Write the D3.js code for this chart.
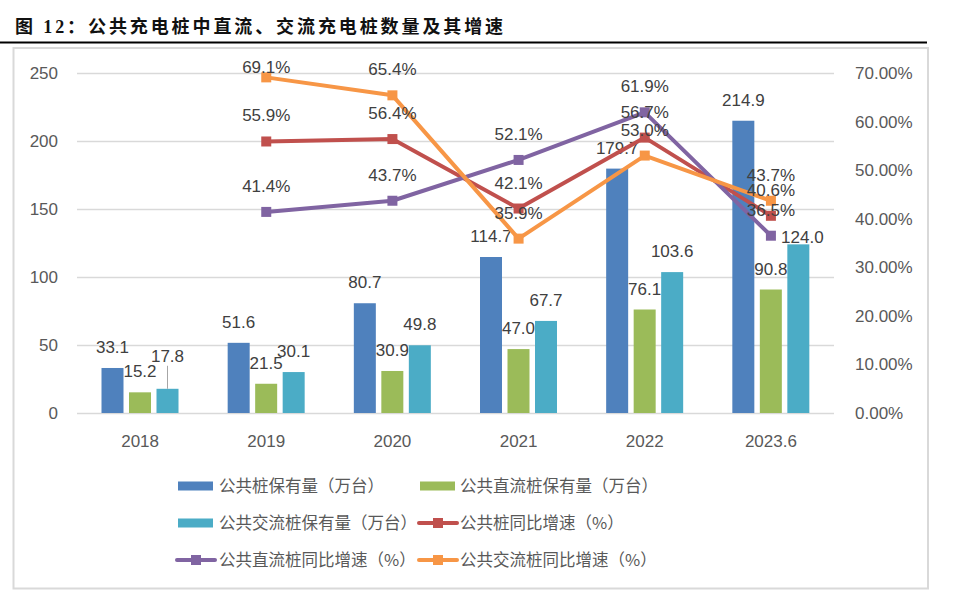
<!DOCTYPE html>
<html><head><meta charset="utf-8">
<script src="https://cdn.jsdelivr.net/npm/d3@7"></script>
<style>
body{margin:0;background:#fff;}
svg{display:block;}
</style></head>
<body>
<svg id="chart" width="960" height="595"></svg>
<script>
// ---------- data ----------
const categories = ["2018","2019","2020","2021","2022","2023.6"];
const totalPiles = [33.1, 51.6, 80.7, 114.7, 179.7, 214.9];
const dcPiles    = [15.2, 21.5, 30.9, 47.0, 76.1, 90.8];
const acPiles    = [17.8, 30.1, 49.8, 67.7, 103.6, 124.0];
const totalGrowth = [null, 55.9, 56.4, 42.1, 56.7, 40.6];
const dcGrowth    = [null, 41.4, 43.7, 52.1, 61.9, 36.5];
const acGrowth    = [null, 69.1, 65.4, 35.9, 53.0, 43.7];
const leftTicks  = [0, 50, 100, 150, 200, 250];
const rightTicks = [0, 10, 20, 30, 40, 50, 60, 70];
const barNames  = ["公共桩保有量（万台）","公共直流桩保有量（万台）","公共交流桩保有量（万台）"];
const lineNames = ["公共桩同比增速（%）","公共直流桩同比增速（%）","公共交流桩同比增速（%）"];
const titleText = "图 12：公共充电桩中直流、交流充电桩数量及其增速";

// ---------- styles ----------
const barColors  = ["#4F81BD","#9BBB59","#4BACC6"];
const lineColors = ["#C0504D","#8064A2","#F79646"];
const axisColor = "#595959";
const labelColor = "#404040";
const numFont = "'Liberation Sans', Arial, sans-serif";
const cjkFont = "'Noto Sans CJK SC', sans-serif";

const svg = d3.select("#chart");

// title
svg.append("text").attr("x", 15).attr("y", 33)
  .attr("font-family", "'Liberation Serif', " + cjkFont).attr("font-weight", "bold")
  .attr("font-size", 18).attr("letter-spacing", 2.9).attr("fill", "#111")
  .text(titleText);
svg.append("line").attr("x1", 0).attr("x2", 927).attr("y1", 42.5).attr("y2", 42.5)
  .attr("stroke", "#000").attr("stroke-width", 2);
// frame
svg.append("rect").attr("x", 13.5).attr("y", 48).attr("width", 914.5).attr("height", 540.5)
  .attr("fill", "none").attr("stroke", "#d9d9d9").attr("stroke-width", 2);

// scales
const plotL = 77, plotR = 834, plotT = 73, plotB = 413;
const x = d3.scaleBand().domain(categories).range([plotL, plotR]);
const xs = d3.scaleBand().domain([0,1,2]).range([24.5, 101.5]).paddingInner(0.2);
const yL = d3.scaleLinear().domain([0, 250]).range([plotB, plotT]);
const yR = d3.scaleLinear().domain([0, 70]).range([plotB, plotT]);

// left axis + gridlines
const gL = svg.append("g").attr("transform", `translate(${plotL},0)`)
  .call(d3.axisLeft(yL).tickValues(leftTicks).tickSize(-(plotR - plotL)).tickPadding(19));
gL.select(".domain").remove();
gL.selectAll("line").attr("stroke", "#d9d9d9").attr("stroke-width", 1.5);
gL.selectAll("text").attr("font-family", numFont).attr("font-size", 17).attr("fill", axisColor);

// right axis
const gR = svg.append("g").attr("transform", `translate(${plotR},0)`)
  .call(d3.axisRight(yR).tickValues(rightTicks).tickSize(0).tickPadding(21)
    .tickFormat(d => d3.format(".2f")(d) + "%"));
gR.select(".domain").remove();
gR.selectAll("text").attr("font-family", numFont).attr("font-size", 17).attr("fill", axisColor);

// x axis
const gX = svg.append("g").attr("transform", `translate(0,${plotB})`)
  .call(d3.axisBottom(x).tickSize(0).tickPadding(22));
gX.select(".domain").remove();
gX.selectAll("text").attr("font-family", numFont).attr("font-size", 17).attr("fill", axisColor);

// bars
const barSeries = [totalPiles, dcPiles, acPiles];
const labelTweaks = { "2-0": {dx: 0, dy: -12, leader: true}, "2-5": {dx: 4, dy: 14} };
barSeries.forEach((vals, si) => {
  const g = svg.append("g");
  g.selectAll("rect").data(vals).join("rect")
    .attr("x", (d, i) => x(categories[i]) + xs(si))
    .attr("y", d => yL(d))
    .attr("width", xs.bandwidth())
    .attr("height", d => plotB - yL(d))
    .attr("fill", barColors[si]);
  vals.forEach((d, i) => {
    const t = labelTweaks[si + "-" + i] || {dx: 0, dy: 0};
    const cx = x(categories[i]) + xs(si) + xs.bandwidth() / 2 + t.dx;
    const by = yL(d) - 15 + t.dy;
    if (t.leader) {
      svg.append("line").attr("x1", cx).attr("x2", cx)
        .attr("y1", by + 4).attr("y2", yL(d))
        .attr("stroke", "#a6a6a6").attr("stroke-width", 1);
    }
    svg.append("text").attr("x", cx).attr("y", by)
      .attr("text-anchor", "middle").attr("font-family", numFont).attr("font-size", 17)
      .attr("fill", labelColor).text(d3.format(".1f")(d));
  });
});

// lines
const lineSeries = [totalGrowth, dcGrowth, acGrowth];
const cx = i => x(categories[i]) + x.bandwidth() / 2;
lineSeries.forEach((vals, si) => {
  const pts = vals.map((v, i) => ({v, i})).filter(p => p.v !== null);
  const line = d3.line().x(p => cx(p.i)).y(p => yR(p.v));
  svg.append("path").datum(pts).attr("d", line)
    .attr("fill", "none").attr("stroke", lineColors[si]).attr("stroke-width", 4)
    .attr("stroke-linejoin", "round");
  svg.append("g").selectAll("rect").data(pts).join("rect")
    .attr("x", p => cx(p.i) - 5).attr("y", p => yR(p.v) - 5)
    .attr("width", 10).attr("height", 10).attr("fill", lineColors[si]);
});
lineSeries.forEach((vals, si) => {
  vals.forEach((v, i) => {
    if (v === null) return;
    svg.append("text").attr("x", cx(i)).attr("y", Math.max(yR(v) - 20, 73))
      .attr("text-anchor", "middle").attr("font-family", numFont).attr("font-size", 17)
      .attr("fill", labelColor).text(d3.format(".1f")(v) + "%");
  });
});

// legend
const legendItems = [
  {type: "bar", color: barColors[0], name: barNames[0]},
  {type: "bar", color: barColors[1], name: barNames[1]},
  {type: "bar", color: barColors[2], name: barNames[2]},
  {type: "line", color: lineColors[0], name: lineNames[0]},
  {type: "line", color: lineColors[1], name: lineNames[1]},
  {type: "line", color: lineColors[2], name: lineNames[2]}
];
const rowY = [486, 523, 560];
const colSwatch = [178, 420];
const colText = [219, 460];
legendItems.forEach((it, k) => {
  const r = Math.floor(k / 2), c = k % 2;
  const y = rowY[r];
  const g = svg.append("g");
  if (it.type === "bar") {
    g.append("rect").attr("x", colSwatch[c]).attr("y", y - 4.5)
      .attr("width", 35).attr("height", 9).attr("fill", it.color);
  } else {
    const x0 = colSwatch[c] - 1, x1 = colSwatch[c] + 37;
    g.append("line").attr("x1", x0).attr("x2", x1).attr("y1", y).attr("y2", y)
      .attr("stroke", it.color).attr("stroke-width", 4).attr("stroke-linecap", "round");
    g.append("rect").attr("x", (x0 + x1) / 2 - 5).attr("y", y - 5)
      .attr("width", 10).attr("height", 10).attr("fill", it.color);
  }
  g.append("text").attr("x", colText[c]).attr("y", y).attr("dy", "0.35em")
    .attr("font-family", cjkFont).attr("font-size", 16.5).attr("fill", axisColor)
    .text(it.name);
});
</script>
</body></html>
